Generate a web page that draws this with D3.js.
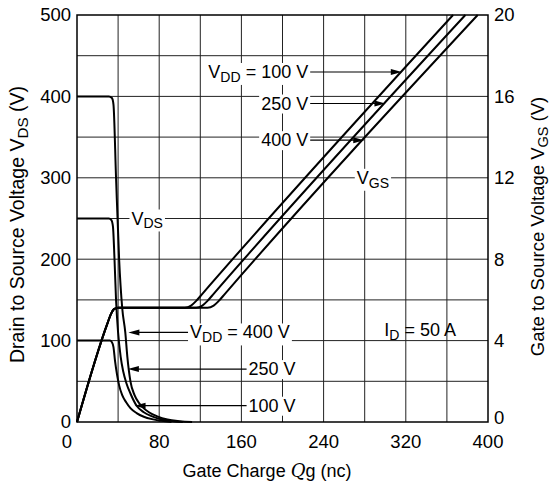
<!DOCTYPE html>
<html>
<head>
<meta charset="utf-8">
<script src="https://cdn.jsdelivr.net/npm/d3@7"></script>
<style>
  body { margin: 0; background: #fff; }
  text { font-family: Arial, "Liberation Sans", sans-serif; fill: #000; }
</style>
</head>
<body>
<svg id="chart" width="552" height="489"></svg>
<script>
// ---- data ----
const xTicks      = [0, 80, 160, 240, 320, 400];
const yLeftTicks  = [0, 100, 200, 300, 400, 500];
const yRightTicks = [0, 4, 8, 12, 16, 20];

// V_DS vs Qg (nC, V)
const vds100 = [[0,100],[32,100],[34,98],[35.5,92],[37,75],[39,58],[41,45],[44,33],[48,24],[52,17],[58,11],[65,6.5],[73,3.5],[82,1.5],[92,0]];
const vds250 = [[0,250],[31,250],[33.5,248],[35,240],[36.5,200],[38,150],[40,110],[42.5,80],[45,62],[48,48],[52,35],[58,20],[65,12],[73,7],[83,3],[93,1],[103,0]];
const vds400 = [[0,400],[31,400],[34,398],[35.5,390],[38,300],[41,200],[44,140],[47,110],[49,80],[52,50],[56,33],[60,24],[64,18],[70,12],[78,7],[88,3],[100,1],[112,0]];

// V_GS vs Qg (nC, V)
const vgs100 = [[0,0],[30,4.9],[33,5.3],[36,5.55],[40,5.62],[105,5.62],[111,5.72],[116,5.95],[122,6.3],[366,20]];
const vgs250 = [[0,0],[30,4.9],[33,5.3],[36,5.55],[40,5.62],[116,5.62],[122,5.72],[127,5.95],[133,6.3],[378,20]];
const vgs400 = [[0,0],[30,4.9],[33,5.3],[36,5.55],[40,5.62],[127,5.62],[133,5.72],[138,5.95],[144,6.3],[390,20]];

// arrow annotations (levels / charges in data units)
const topNotes = [
  { parts: [['V'], ['DD', 1], [' = 100 V']], level: 17.2, series: vgs100 },
  { parts: [['250 V']],                      level: 15.65, series: vgs250 },
  { parts: [['400 V']],                      level: 13.85, series: vgs400 }
];
const bottomNotes = [
  { parts: [['V'], ['DD', 1], [' = 400 V']], level: 110, tipQ: 50, textQ: 110 },
  { parts: [['250 V']],                      level: 65,  tipQ: 49.5, textQ: 167 },
  { parts: [['100 V']],                      level: 20,  tipQ: 56, textQ: 167 }
];

// ---- layout ----
const margin = { top: 15, right: 64, bottom: 67, left: 77 };
const W = 552, H = 489;
const iW = W - margin.left - margin.right;
const iH = H - margin.top - margin.bottom;

const svg = d3.select('#chart');
const x  = d3.scaleLinear().domain([0, 400]).range([margin.left, margin.left + iW]);
const yL = d3.scaleLinear().domain([0, 500]).range([margin.top + iH, margin.top]);
const yR = d3.scaleLinear().domain([0, 20]).range([margin.top + iH, margin.top]);

// grid
const grid = svg.append('g').attr('stroke', '#222').attr('stroke-width', 1);
grid.selectAll('line.v').data(d3.range(40, 400, 40)).enter().append('line')
  .attr('x1', d => x(d)).attr('x2', d => x(d))
  .attr('y1', margin.top).attr('y2', margin.top + iH);
grid.selectAll('line.h').data(d3.range(50, 500, 50)).enter().append('line')
  .attr('y1', d => yL(d)).attr('y2', d => yL(d))
  .attr('x1', margin.left).attr('x2', margin.left + iW);

svg.append('rect')
  .attr('x', margin.left).attr('y', margin.top)
  .attr('width', iW).attr('height', iH)
  .attr('fill', 'none').attr('stroke', '#000').attr('stroke-width', 1.5);

// tick labels
const TK = 18.5;
svg.append('g').selectAll('text').data(yLeftTicks).enter().append('text')
  .attr('x', margin.left - 6).attr('y', d => yL(d)).attr('dy', '0.35em')
  .attr('text-anchor', 'end').attr('font-size', TK).text(d => d);
svg.append('g').selectAll('text').data(yRightTicks).enter().append('text')
  .attr('x', margin.left + iW + 6).attr('y', d => yR(d) - (d === 0 ? 4 : 0)).attr('dy', '0.35em')
  .attr('text-anchor', 'start').attr('font-size', TK).text(d => d);
svg.append('g').selectAll('text').data(xTicks).enter().append('text')
  .attr('x', d => x(d) - (d === 0 ? 10 : 0)).attr('y', margin.top + iH + 26)
  .attr('text-anchor', 'middle').attr('font-size', TK).text(d => d);

// text with subscripts: parts = [[str, isSub], ...]
function richText(g, px, py, parts, size, anchor) {
  const t = g.append('text').attr('x', px).attr('y', py)
    .attr('font-size', size).attr('text-anchor', anchor || 'start');
  let low = false;
  parts.forEach(p => {
    const s = t.append('tspan').text(p[0]);
    if (p[1]) { s.attr('font-size', size * 0.78).attr('dy', size * 0.22); low = true; }
    else if (low) { s.attr('dy', -size * 0.22); low = false; }
  });
  return t;
}
function boxed(g, px, py, parts, size, anchor) {
  const bg = g.append('rect').attr('fill', '#fff');
  const t = richText(g, px, py, parts, size, anchor);
  const b = t.node().getBBox();
  bg.attr('x', b.x - 2).attr('y', b.y + 1).attr('width', b.width + 4).attr('height', b.height - 1);
  return b;
}

// axis titles
const lt = richText(svg, 0, 0, [['Drain to Source Voltage V'], ['DS', 1], [' (V)']], 19.5, 'middle');
lt.attr('transform', `translate(24, ${margin.top + iH / 2 + 6}) rotate(-90)`);
const rt = richText(svg, 0, 0, [['Gate to Source Voltage V'], ['GS', 1], [' (V)']], 18.5, 'middle');
rt.attr('transform', `translate(544, ${margin.top + iH / 2 + 8}) rotate(-90)`);
const bt = svg.append('text').attr('x', 267).attr('y', 477).attr('text-anchor', 'middle').attr('font-size', 18);
bt.append('tspan').text('Gate Charge ');
bt.append('tspan').text('Q').attr('font-family', '"DejaVu Serif", serif').attr('font-style', 'italic');
bt.append('tspan').text('g (nc)');

// curves
const lineL = d3.line().x(d => x(d[0])).y(d => yL(d[1])).curve(d3.curveMonotoneX);
const lineR = d3.line().x(d => x(d[0])).y(d => yR(d[1])).curve(d3.curveMonotoneX);
const curves = svg.append('g').attr('fill', 'none').attr('stroke', '#000').attr('stroke-width', 2);
[vds100, vds250, vds400].forEach(s => curves.append('path').attr('d', lineL(s)));
[vgs100, vgs250, vgs400].forEach(s => curves.append('path').attr('d', lineR(s)));

// where a series crosses a horizontal level
function crossAt(series, level) {
  for (let i = series.length - 1; i > 0; i--) {
    const [q0, v0] = series[i - 1], [q1, v1] = series[i];
    if ((v0 - level) * (v1 - level) <= 0 && v0 !== v1) return q0 + (level - v0) * (q1 - q0) / (v1 - v0);
  }
  return series[0][0];
}
function arrow(g, x1, y, x2) {
  const dir = x2 > x1 ? 1 : -1;
  g.append('line').attr('x1', x1).attr('x2', x2 - dir * 8).attr('y1', y).attr('y2', y)
    .attr('stroke', '#000').attr('stroke-width', 1.2);
  g.append('path').attr('d', `M${x2},${y} L${x2 - dir * 11},${y - 3} L${x2 - dir * 11},${y + 3} Z`).attr('fill', '#000');
}

const notes = svg.append('g');
topNotes.forEach(n => {
  const py = yR(n.level);
  const b = boxed(notes, x(225), py + 6, n.parts, 18, 'end');
  arrow(notes, b.x + b.width + 2, py, x(crossAt(n.series, n.level)));
});
bottomNotes.forEach(n => {
  const py = yL(n.level);
  const b = boxed(notes, x(n.textQ), py + 6, n.parts, 18, 'start');
  arrow(notes, b.x - 2, py, x(n.tipQ));
});

// labels sitting on grid lines
boxed(notes, x(288), yL(300) + 6, [['V'], ['GS', 1]], 18, 'middle');
boxed(notes, x(53), yL(250) + 6, [['V'], ['DS', 1]], 18, 'start');
richText(notes, x(334), yL(113) + 6, [['I'], ['D', 1], [' = 50 A']], 18, 'middle');
</script>
</body>
</html>
